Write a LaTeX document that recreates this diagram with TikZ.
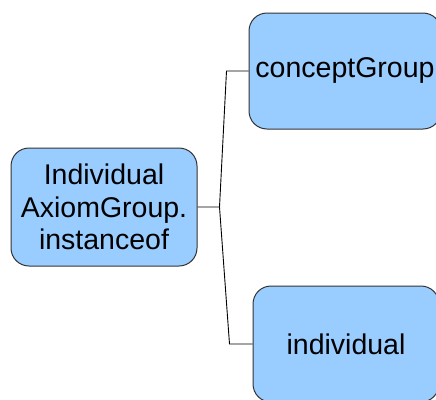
\documentclass[tikz,border=0pt]{standalone}
\usepackage{fontspec}
\setmainfont{Liberation Sans}
\usetikzlibrary{calc}
\definecolor{boxblue}{HTML}{99CCFF}
\definecolor{boxline}{HTML}{333333}
\begin{document}
\begin{tikzpicture}[x=1pt,y=-1pt,
    box/.style={draw=boxline,fill=boxblue,line width=1pt,rounded corners=18pt,
      inner sep=0pt,align=center,font=\fontsize{28.5}{32.5}\selectfont},
    link/.style={draw=black,line width=0.9pt}]
  \clip (0,0) rectangle (436,399);
  \useasboundingbox (0,0) rectangle (436,399);
  \node[box,minimum width=186pt,minimum height=118pt] (axiom) at (104,207) {Individual\\AxiomGroup.\\instanceof};
  \node[box,minimum width=192pt,minimum height=116pt] (concept) at (345,71) {conceptGroup};
  \node[box,minimum width=186pt,minimum height=116pt] (indiv) at (346,344) {individual};
  \coordinate (fork) at ($(axiom.east)+(22,0)$);
  \coordinate (bendA) at ($(concept.west)+(-22,0)$);
  \coordinate (bendB) at ($(indiv.west)+(-23,0)$);
  \draw[link] (axiom.east) -- (fork) -- (bendA) -- (concept.west);
  \draw[link] (fork) -- (bendB) -- (indiv.west);
\end{tikzpicture}
\end{document}
